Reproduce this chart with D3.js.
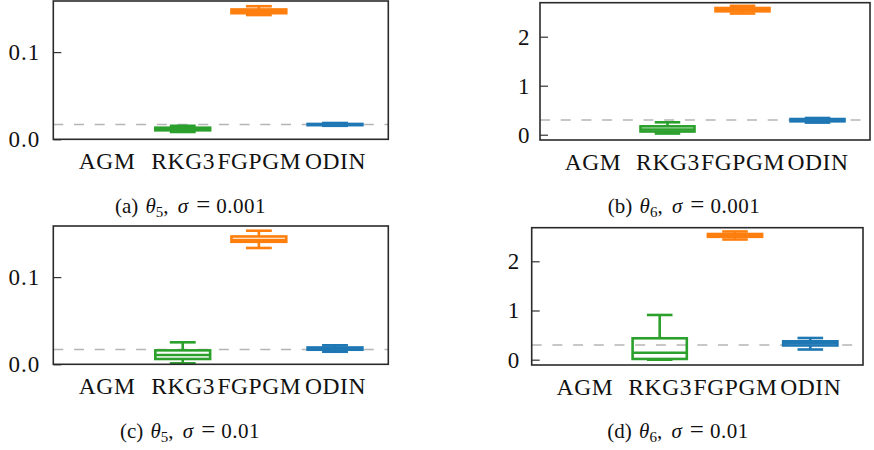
<!DOCTYPE html>
<html>
<head>
<meta charset="utf-8">
<script src="https://cdn.jsdelivr.net/npm/d3@7"></script>
<style>
  body { margin: 0; background: #fff; }
  text { font-family: "Liberation Serif", serif; fill: #111; }
</style>
</head>
<body>
<svg id="chart" width="874" height="450"></svg>
<script>
const methods = ['AGM', 'RKG3', 'FGPGM', 'ODIN'];

// true parameter values (dashed reference lines)
const theta5True = 0.017;
const theta6True = 0.3;

// per method: [lower whisker, q1, median, q3, upper whisker]; AGM has no result
const theta5Sigma001 = [
  null,
  [0.0084, 0.0103, 0.0118, 0.0133, 0.0155],
  [0.1425, 0.1446, 0.1470, 0.1489, 0.1526],
  [0.0155, 0.0162, 0.0168, 0.0176, 0.0187]
];
const theta6Sigma001 = [
  null,
  [0.024, 0.065, 0.106, 0.171, 0.253],
  [2.473, 2.518, 2.550, 2.586, 2.630],
  [0.247, 0.273, 0.300, 0.320, 0.341]
];
const theta5Sigma01 = [
  null,
  [0.0011, 0.0061, 0.0107, 0.0160, 0.0252],
  [0.1334, 0.1405, 0.1425, 0.1466, 0.1532],
  [0.0144, 0.0167, 0.0180, 0.0193, 0.0218]
];
const theta6Sigma01 = [
  null,
  [0.000, 0.015, 0.142, 0.435, 0.909],
  [2.443, 2.498, 2.530, 2.555, 2.606],
  [0.207, 0.289, 0.333, 0.374, 0.441]
];

const ticksTheta5 = [0, 0.1];
const ticksTheta6 = [0, 1, 2];

const colors = ['#7f7f7f', '#2ca02c', '#ff7f0e', '#1f77b4'];

const panels = [
  {stats: theta5Sigma001, truth: theta5True, ticks: ticksTheta5, fmt: d3.format('.1f'),
   letter: '(a)', sub: '5', sigma: '0.001',
   left: 53.3, right: 388.3, top: 1, bottom: 139.3, y0: 0, y1: 0.1586, pad: 13, capX: 190.5, capY: 213},
  {stats: theta6Sigma001, truth: theta6True, ticks: ticksTheta6, fmt: d3.format('d'),
   letter: '(b)', sub: '6', sigma: '0.001',
   left: 540, right: 870, top: 2.7, bottom: 140, y0: -0.108, y1: 2.694, pad: 9.5, capX: 684, capY: 213},
  {stats: theta5Sigma01, truth: theta5True, ticks: ticksTheta5, fmt: d3.format('.1f'),
   letter: '(c)', sub: '5', sigma: '0.01',
   left: 53.3, right: 388.3, top: 226, bottom: 364.3, y0: 0, y1: 0.1586, pad: 13, capX: 190, capY: 438},
  {stats: theta6Sigma01, truth: theta6True, ticks: ticksTheta6, fmt: d3.format('d'),
   letter: '(d)', sub: '6', sigma: '0.01',
   left: 531.7, right: 863, top: 227.7, bottom: 365, y0: -0.108, y1: 2.683, pad: 11.5, capX: 678, capY: 438}
];

const svg = d3.select('#chart');
const boxHalf = 0.36, capHalf = 0.17, lw = 2.6;

panels.forEach(p => {
  const x = d3.scaleLinear().domain([0.3, 4.7]).range([p.left, p.right]);
  const y = d3.scaleLinear().domain([p.y0, p.y1]).range([p.bottom, p.top]);
  const g = svg.append('g');

  // y axis, ticks pointing inward
  const ya = g.append('g')
    .attr('transform', `translate(${p.left},0)`)
    .call(d3.axisLeft(y).tickValues(p.ticks).tickFormat(p.fmt).tickSizeInner(-8).tickSizeOuter(0).tickPadding(p.pad));
  ya.select('.domain').remove();
  ya.selectAll('line').attr('stroke', '#333').attr('stroke-width', 1.2);
  ya.selectAll('text').attr('font-size', 23).attr('font-family', 'Liberation Serif')
    .attr('letter-spacing', 1);

  // x axis labels only
  const xa = g.append('g')
    .attr('transform', `translate(0,${p.bottom})`)
    .call(d3.axisBottom(x).tickValues([1, 2, 3, 4]).tickFormat(d => methods[d - 1]).tickSize(0).tickPadding(13));
  xa.select('.domain').remove();
  xa.selectAll('text').attr('font-size', 23.5).attr('font-family', 'Liberation Serif')
    .attr('letter-spacing', 0.6);

  // true value
  g.append('line')
    .attr('x1', p.left).attr('x2', p.right)
    .attr('y1', y(p.truth)).attr('y2', y(p.truth))
    .attr('stroke', '#b5b5b5').attr('stroke-width', 1.5)
    .attr('stroke-dasharray', '10,10.7');

  // boxes
  const boxes = g.selectAll('g.box')
    .data(p.stats.map((s, i) => ({s, i})).filter(d => d.s))
    .join('g').attr('class', 'box')
    .attr('stroke', d => colors[d.i]).attr('stroke-width', lw).attr('fill', 'none');

  boxes.append('line')
    .attr('x1', d => x(d.i + 1)).attr('x2', d => x(d.i + 1))
    .attr('y1', d => y(d.s[4])).attr('y2', d => y(d.s[3]));
  boxes.append('line')
    .attr('x1', d => x(d.i + 1)).attr('x2', d => x(d.i + 1))
    .attr('y1', d => y(d.s[1])).attr('y2', d => y(d.s[0]));
  [0, 4].forEach(k => {
    boxes.append('line')
      .attr('x1', d => x(d.i + 1 - capHalf)).attr('x2', d => x(d.i + 1 + capHalf))
      .attr('y1', d => y(d.s[k])).attr('y2', d => y(d.s[k]));
  });
  boxes.append('rect')
    .attr('x', d => x(d.i + 1 - boxHalf))
    .attr('width', d => x(d.i + 1 + boxHalf) - x(d.i + 1 - boxHalf))
    .attr('y', d => y(d.s[3]))
    .attr('height', d => y(d.s[1]) - y(d.s[3]));
  boxes.append('line')
    .attr('x1', d => x(d.i + 1 - boxHalf)).attr('x2', d => x(d.i + 1 + boxHalf))
    .attr('y1', d => y(d.s[2])).attr('y2', d => y(d.s[2]));

  // frame
  g.append('rect')
    .attr('x', p.left).attr('y', p.top)
    .attr('width', p.right - p.left).attr('height', p.bottom - p.top)
    .attr('fill', 'none').attr('stroke', '#2a2a2a').attr('stroke-width', 1.6);

  // caption
  const cap = g.append('text')
    .attr('x', p.capX).attr('y', p.capY)
    .attr('text-anchor', 'middle').attr('font-size', 21)
    .style('white-space', 'pre');
  cap.append('tspan').text(p.letter + ' ');
  cap.append('tspan').attr('font-style', 'italic').attr('dx', 2).text('θ');
  cap.append('tspan').attr('font-size', 15).attr('dy', 4).text(p.sub);
  cap.append('tspan').attr('dy', -4).text(', ');
  cap.append('tspan').attr('font-style', 'italic').attr('dx', 4).text('σ');
  cap.append('tspan').attr('dx', 8).attr('font-size', 25).text('=');
  cap.append('tspan').attr('dx', 6).attr('letter-spacing', 0.5).text(p.sigma);
});
</script>
</body>
</html>
